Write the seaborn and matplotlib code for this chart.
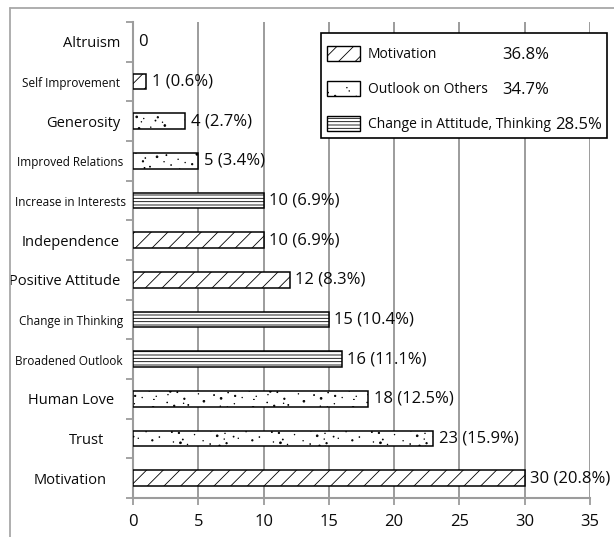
import matplotlib
matplotlib.use("Agg")
import numpy as np
import matplotlib.pyplot as plt
import matplotlib.hatch as mhatch
import seaborn as sns
import pandas as pd
from matplotlib.patches import Patch, Rectangle
from matplotlib.lines import Line2D
from matplotlib.path import Path
from matplotlib.transforms import blended_transform_factory

# ---- data -------------------------------------------------------------
categories = [
    "Altruism", "Self Improvement", "Generosity", "Improved Relations",
    "Increase in Interests", "Independence", "Positive Attitude",
    "Change in Thinking", "Broadened Outlook", "Human Love", "Trust",
    "Motivation",
]
counts = [0, 1, 4, 5, 10, 10, 12, 15, 16, 18, 23, 30]
percents = [None, "0.6", "2.7", "3.4", "6.9", "6.9", "8.3", "10.4",
            "11.1", "12.5", "15.9", "20.8"]
groups = [
    "Motivation", "Motivation", "Outlook on Others", "Outlook on Others",
    "Change in Attitude, Thinking", "Motivation", "Motivation",
    "Change in Attitude, Thinking", "Change in Attitude, Thinking",
    "Outlook on Others", "Outlook on Others", "Motivation",
]
group_names = ["Motivation", "Outlook on Others", "Change in Attitude, Thinking"]
group_shares = ["36.8%", "34.7%", "28.5%"]
x_ticks = [0, 5, 10, 15, 20, 25, 30, 35]

# ---- styling ------------------------------------------------------------
hatches = {
    "Motivation": "//",
    "Outlook on Others": ".",
    "Change in Attitude, Thinking": "-----",
}
small_labels = {"Self Improvement", "Improved Relations", "Increase in Interests",
                "Change in Thinking", "Broadened Outlook"}
# horizontal nudges (pixels) of individual category labels
label_nudge = {"Improved Relations": 3, "Increase in Interests": 6,
               "Change in Thinking": 3, "Broadened Outlook": 3,
               "Human Love": -6, "Trust": -16, "Motivation": -13}
GRAY = "#9c9c9c"
INK = "#0a0a0a"
FONT = "Open Sans"
BIG, SMALL = 10.5, 8.5


# stipple texture for the '.' hatch: irregular dots of a few sizes
DOT_RADII = [0.003, 0.005, 0.003, 0.009, 0.004, 0.003, 0.007]


def _radical_inverse(i, base):
    f, r = 1.0, 0.0
    while i:
        f /= base
        r += f * (i % base)
        i //= base
    return r


class Stipple(mhatch.HatchPatternBase):
    def __init__(self, hatch, density):
        n = hatch.count(".") * 130
        circle = Path.unit_circle()
        self.shape_vertices = circle.vertices
        self.shape_codes = circle.codes
        self.points = [(_radical_inverse(i, 2), _radical_inverse(i, 3),
                        DOT_RADII[i % len(DOT_RADII)]) for i in range(1, n + 1)]
        self.num_vertices = len(self.points) * len(self.shape_vertices)

    def set_vertices_and_codes(self, vertices, codes):
        if not self.points:
            return
        np.concatenate([self.shape_vertices * r + [x, y] for x, y, r in self.points],
                       out=vertices)
        np.concatenate([self.shape_codes] * len(self.points), out=codes)


mhatch._hatch_types = [Stipple if t is mhatch.SmallFilledCircles else t
                       for t in mhatch._hatch_types]

sns.set_theme(style="white")
plt.rcParams["font.family"] = [FONT, "DejaVu Sans"]
plt.rcParams["hatch.linewidth"] = 0.6
plt.rcParams["hatch.color"] = "black"

W, H = 614, 537
fig = plt.figure(figsize=(W / 100, H / 100), dpi=100)
ax = fig.add_axes([133 / W, 1 - 498 / H, (590 - 133) / W, (498 - 22) / H])

df = pd.DataFrame({"category": categories, "count": counts, "group": groups})
sns.barplot(data=df, y="category", x="count", order=categories, orient="h",
            width=0.4, color="white", saturation=1, edgecolor="black",
            linewidth=1.1, ax=ax, zorder=3)

for patch, grp, c in zip(ax.patches, groups, counts):
    patch.set_hatch(hatches[grp])
    patch.set_facecolor("white")
    if c == 0:
        patch.set_visible(False)

labels = [f"{c}" if p is None else f"{c} ({p}%)" for c, p in zip(counts, percents)]
ax.bar_label(ax.containers[0], labels=labels, padding=4, fontsize=12, color=INK)

# axes, grid, ticks
ax.set_xlim(0, 35)
ax.set_ylim(11.5, -0.5)
ax.set_xticks(x_ticks)
ax.set_xlabel("")
ax.set_ylabel("")
ax.xaxis.grid(True, color=GRAY, linewidth=1.4)
ax.yaxis.grid(False)
ax.set_axisbelow(True)
for side in ("top", "right"):
    ax.spines[side].set_visible(False)
for side in ("left", "bottom"):
    ax.spines[side].set_color(GRAY)
    ax.spines[side].set_linewidth(1.5)

ax.set_yticks([i - 0.5 for i in range(len(categories) + 1)], minor=True)
ax.tick_params(axis="y", which="minor", length=5, width=1.3, color=GRAY, left=True)
ax.tick_params(axis="y", which="major", length=0, labelleft=False)
ax.tick_params(axis="x", which="major", length=5, width=1.3, color=GRAY,
               bottom=True, labelsize=12, pad=6.5, labelcolor=INK)

# category labels
ytrans = blended_transform_factory(ax.transAxes, ax.transData)
for i, cat in enumerate(categories):
    gap_px = 13 - label_nudge.get(cat, 0)
    ax.annotate(cat, xy=(0, i), xycoords=ytrans, xytext=(-gap_px * 0.72, -1.5),
                textcoords="offset points", ha="right", va="center",
                fontsize=SMALL if cat in small_labels else BIG, color=INK,
                annotation_clip=False)

# legend: a white box with a black border, entries laid out inside it
box = Rectangle((321 / W, 1 - 138 / H), 286 / W, 105 / H, transform=fig.transFigure,
                facecolor="white", edgecolor="black", linewidth=1.2,
                zorder=9, clip_on=False)
ax.add_patch(box)

handles = [Patch(facecolor="white", edgecolor="black", hatch=hatches[g],
                 linewidth=1.0) for g in group_names]
leg = ax.legend(handles, group_names, loc="upper left",
                bbox_to_anchor=(327 / W, 1 - 46.5 / H),
                bbox_transform=fig.transFigure, borderaxespad=0, borderpad=0,
                fontsize=10, frameon=False, handlelength=2.4,
                handleheight=1.2, labelspacing=1.38, handletextpad=0.55)
leg.set_zorder(10)
for t in leg.get_texts():
    t.set_color(INK)

# shares placed in a column to the right of the legend names
fig.canvas.draw()
renderer = fig.canvas.get_renderer()
col_x = 502
for t, share in zip(leg.get_texts(), group_shares):
    bb = t.get_window_extent(renderer)
    x = max(col_x, bb.x1 + 4)
    y = (bb.y0 + bb.y1) / 2
    fig.text(x / W, y / H, share, ha="left", va="center", fontsize=12,
             color=INK, zorder=20)

# outer frame
fig.add_artist(Line2D([10 / W, 10 / W], [0, 1 - 8 / H], transform=fig.transFigure,
                      color="#a8a8a8", linewidth=1.3))
fig.add_artist(Line2D([10 / W, 1], [1 - 8 / H, 1 - 8 / H], transform=fig.transFigure,
                      color="#a8a8a8", linewidth=1.3))

fig.savefig("out.png", dpi=100)
